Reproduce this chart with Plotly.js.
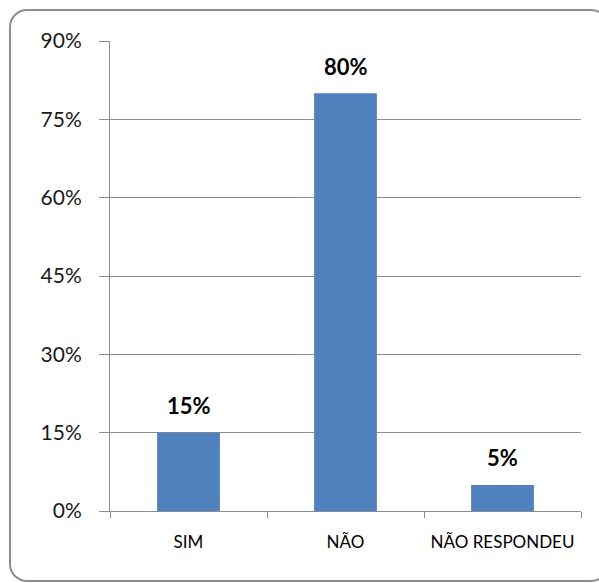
<!DOCTYPE html>
<html>
<head>
<meta charset="utf-8">
<script src="https://cdn.plot.ly/plotly-3.0.1.min.js"></script>
<style>
  html, body { margin: 0; padding: 0; background: #ffffff; }
  #wrap { position: relative; width: 599px; height: 583px; overflow: hidden; }
  #chart { position: absolute; left: 0; top: 0; width: 599px; height: 583px; }
  #frame { position: absolute; left: 9px; top: 9px; width: 600px; height: 573px;
           border: 2px solid #8e8e8e; border-radius: 18px; pointer-events: none; box-sizing: border-box; }
</style>
</head>
<body>
<div id="wrap">
  <div id="chart"></div>
  <div id="frame"></div>
</div>
<script>
const categories = ["SIM", "NÃO", "NÃO RESPONDEU"];
const values = [0.15, 0.80, 0.05];
const valueLabels = ["15%", "80%", "5%"];
const yTicks = [0, 0.15, 0.30, 0.45, 0.60, 0.75, 0.90];
const yTickLabels = ["0%", "15%", "30%", "45%", "60%", "75%", "90%"];

const font = "Lato, 'Open Sans', 'DejaVu Sans', sans-serif";
const gray = "#8c8c8c";

const trace = {
  type: "bar",
  x: categories,
  y: values,
  marker: { color: "#4F81BD", line: { width: 0 } },
  hoverinfo: "none"
};

const annotations = categories.map((c, i) => ({
  x: c, y: values[i], xref: "x", yref: "y",
  text: "<b>" + valueLabels[i] + "</b>",
  showarrow: false, yanchor: "middle", yshift: 27,
  font: { family: font, size: 22, color: "#000000" }
}));

const layout = {
  width: 599, height: 583,
  margin: { l: 110, r: 18, t: 41, b: 72 },
  paper_bgcolor: "#ffffff", plot_bgcolor: "#ffffff",
  showlegend: false,
  bargap: 0.6,
  font: { family: font, color: "#000000" },
  xaxis: {
    type: "category",
    tickson: "boundaries",
    ticks: "outside", ticklen: 6, tickcolor: gray, tickwidth: 1,
    showline: true, linecolor: gray, linewidth: 1,
    showgrid: false, zeroline: false,
    tickfont: { family: font, size: 17, color: "#000000" },
    ticklabelstandoff: 16,
    fixedrange: true
  },
  yaxis: {
    range: [0, 0.9],
    tickvals: yTicks, ticktext: yTickLabels,
    ticks: "outside", ticklen: 10, tickcolor: gray, tickwidth: 1,
    showline: true, linecolor: gray, linewidth: 1,
    showgrid: true, gridcolor: gray, gridwidth: 1,
    zeroline: false,
    tickfont: { family: font, size: 21, color: "#1a1a1a" },
    ticklabelstandoff: 13,
    fixedrange: true
  },
  annotations: annotations
};

Plotly.newPlot("chart", [trace], layout, { displayModeBar: false, staticPlot: true });
</script>
</body>
</html>
